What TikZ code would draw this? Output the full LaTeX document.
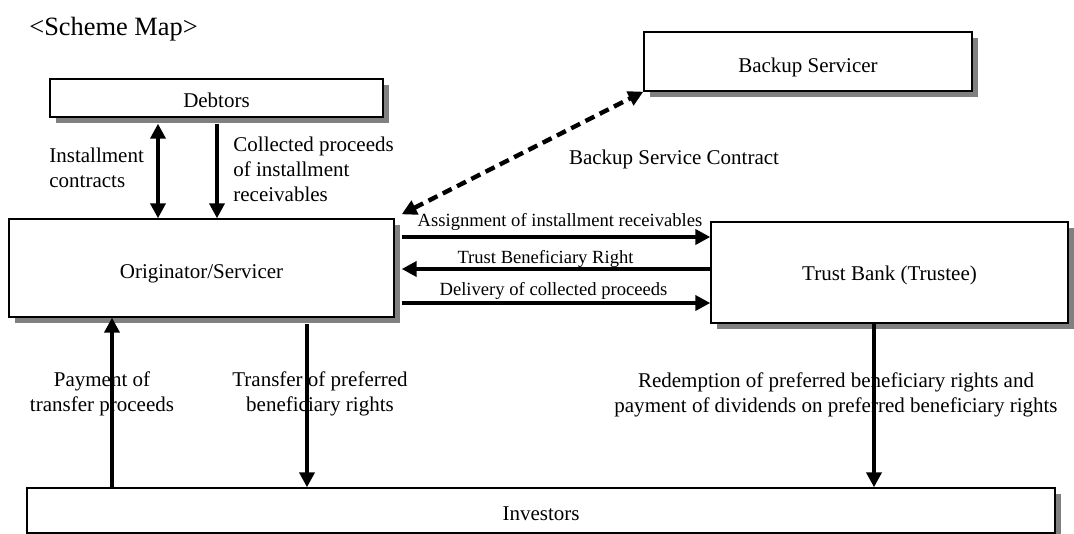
\documentclass[tikz,border=0pt]{standalone}
\usepackage{fontspec}
\setmainfont{Liberation Serif}
\usetikzlibrary{arrows.meta,shadows}
\newcommand\bigsz{\fontsize{10.5}{12.6}\selectfont}
\newcommand\smallsz{\fontsize{9.3}{11}\selectfont}
\newcommand\titlesz{\fontsize{13.2}{15}\selectfont}
\newcommand\lowertext[2]{\raisebox{-#1}[\height][\depth]{#2}}
\begin{document}
\begin{tikzpicture}[x=0.5pt,y=-0.5pt,
  >={Triangle[length=7.5pt,width=7.5pt]},
  box/.style={draw, line width=0.7pt, fill=white, inner sep=0pt, font=\bigsz,
    drop shadow={shadow xshift=3pt, shadow yshift=-3pt, fill=black!50, opacity=1}},
  lbl/.style={inner sep=0pt, font=\bigsz},
  slbl/.style={inner sep=0pt, font=\smallsz},
  arr/.style={line width=2.2pt},
  dasharr/.style={line width=2.2pt, dash pattern=on 5pt off 3pt}]
\useasboundingbox (0,0) rectangle (1074,534);

% boxes
\node[box, minimum width=166.5pt, minimum height=19pt] (deb) at (216.5,98) {\lowertext{1pt}{Debtors}};
\node[box, minimum width=164pt, minimum height=29.5pt] (bs) at (808,61.5) {\lowertext{3.2pt}{Backup Servicer}};
\node[box, minimum width=192.5pt, minimum height=49pt] (orig) at (201.5,268) {\lowertext{3pt}{Originator/Servicer}};
\node[box, minimum width=178.5pt, minimum height=50.5pt] (trust) at (889.5,272.5) {\lowertext{1.5pt}{Trust Bank (Trustee)}};
\node[box, minimum width=514pt, minimum height=22.5pt] (inv) at (541,510.5) {\lowertext{1.5pt}{Investors}};

% labels
\node[inner sep=0pt, font=\titlesz, anchor=base west] (sm) at (29,36) {\textless Scheme Map\textgreater};
\node[lbl, align=left, anchor=north west] (l1) at (49,147.6) {Installment\\contracts};
\node[lbl, align=left, anchor=north west] (l2) at (233,136.6) {Collected proceeds\\of installment\\receivables};
\node[lbl, anchor=base] (l3) at (674,165) {Backup Service Contract};
\node[slbl, anchor=base] (l4) at (560,227) {Assignment of installment receivables};
\node[slbl, anchor=base] (l5) at (545.5,263) {Trust Beneficiary Right};
\node[slbl, anchor=base] (l6) at (553.5,295) {Delivery of collected proceeds};
\node[lbl, align=center, anchor=north] (l7) at (102,371.6) {Payment of\\transfer proceeds};
\node[lbl, align=center, anchor=north] (l8) at (320,371.6) {Transfer of preferred\\beneficiary rights};
\node[lbl, align=center, anchor=north] (l9) at (836,372.6) {Redemption of preferred beneficiary rights and\\payment of dividends on preferred beneficiary rights};

% x / y guides
\coordinate (xa) at (158,0);
\coordinate (xb) at (217,0);
\coordinate (xc) at (112,0);
\coordinate (xd) at (307,0);
\coordinate (xe) at (874,0);
\coordinate (ya) at (0,237);
\coordinate (yb) at (0,269);
\coordinate (yc) at (0,303);

% connectors
\draw[arr,<->,shorten <=3pt] (deb.south -| xa) -- (orig.north -| xa);
\draw[arr,->,shorten <=3pt] (deb.south -| xb) -- (orig.north -| xb);
\draw[dasharr,<->] ([xshift=3.5pt,yshift=2pt]orig.north east) -- (bs.south west);
\draw[arr,->,shorten <=3.5pt] (orig.east |- ya) -- (trust.west |- ya);
\draw[arr,->,shorten >=3.5pt] (trust.west |- yb) -- (orig.east |- yb);
\draw[arr,->,shorten <=3.5pt] (orig.east |- yc) -- (trust.west |- yc);
\draw[arr,->] (inv.north -| xc) -- (orig.south -| xc);
\draw[arr,->,shorten <=3pt] (orig.south -| xd) -- (inv.north -| xd);
\draw[arr,->] (trust.south -| xe) -- (inv.north -| xe);
\end{tikzpicture}
\end{document}
